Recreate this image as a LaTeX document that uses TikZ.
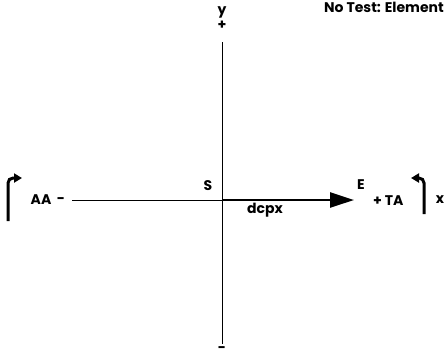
\documentclass[tikz,border=0pt]{standalone}
\usepackage{fontspec}
\setmainfont{Poppins}[UprightFont=*-Bold,BoldFont=*-Bold]
\usetikzlibrary{arrows.meta,positioning,calc}
\tikzset{lbl/.style={font=\fontsize{14}{16}\selectfont,inner sep=1pt}, axis/.style={line width=1pt,draw=black}, vec/.style={-{Triangle[length=24pt,width=15pt]},line width=2.6pt}, turn/.style={-{Triangle[length=8pt,width=9pt]},line width=3pt,rounded corners=5pt}}
\begin{document}
\begin{tikzpicture}[x=1pt,y=-1pt]
\useasboundingbox (0,0) rectangle (446,360);
\coordinate (top) at (222,42);
\coordinate (bot) at (222,344);
\coordinate (left) at (72,200);
\coordinate (S) at (222,200);
\node[lbl,anchor=north east] (title) at (445,1) {No Test: Element};
\node[lbl] (ylab) at (222,12) {y};
\node[lbl] (yplus) at (222,25) {+};
\node[lbl] (yminus) at (222,350) {-};
\node[lbl] (slab) at (208,186) {S};
\node[lbl] (elab) at (361,185) {E};
\node[lbl] (dcpx) at (265,210) {dcpx};
\node[lbl,anchor=west] (ta) at (372,201) {+ TA};
\node[lbl] (xlab) at (440,200) {x};
\node[lbl] (aa) at (41,200) {AA};
\node[lbl] (aminus) at (61,201) {-};
\coordinate (E) at (354,200);
\coordinate (lb) at (8,221);
\coordinate (lt) at (8,178);
\coordinate (la) at (22,178);
\coordinate (rb) at (424,214);
\coordinate (rt) at (424,178);
\coordinate (ra) at (411,178);
\draw[axis] (top) -- (bot);
\draw[axis] (left) -- (S);
\draw[vec] (S) -- (E);
\draw[turn] (lb) -- (lt) -- (la);
\draw[turn] (rb) -- (rt) -- (ra);
\end{tikzpicture}
\end{document}
